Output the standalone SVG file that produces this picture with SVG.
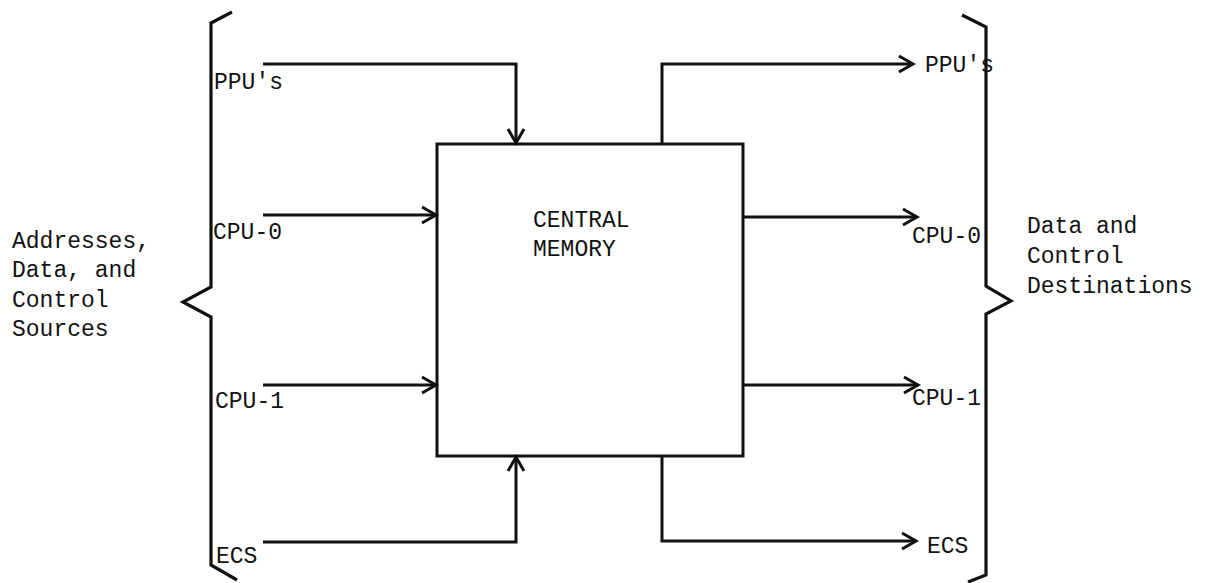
<svg xmlns="http://www.w3.org/2000/svg" width="1210" height="583" viewBox="0 0 1210 583">
<style>
.ln{fill:none;stroke:#111;stroke-width:3;stroke-linejoin:miter}
.br{fill:none;stroke:#111;stroke-width:3.2}
.t{font-family:"Liberation Mono","DejaVu Sans Mono",monospace;font-size:23px;fill:#111}
</style>
<defs>
<marker id="ah" markerUnits="userSpaceOnUse" markerWidth="20" markerHeight="20" viewBox="0 0 20 20" refX="16" refY="10" orient="auto">
<path d="M2,2 L16,10 L2,18" fill="none" stroke="#111" stroke-width="3"/>
</marker>
</defs>
<rect width="1210" height="583" fill="#fff"/>
<g id="left-brace">
<path class="br" d="M232,12 L211,23 V287 L183,302 L211,317 V565 L237,580"/>
</g>
<g id="right-brace">
<path class="br" d="M962,15 L986,27 V286 L1011,301 L986,314 V575 L968,582"/>
</g>
<g id="central-memory">
<rect x="437" y="144" width="306" height="312" fill="#fff" stroke="#111" stroke-width="3"/>
<text class="t" x="533" y="227">CENTRAL</text>
<text class="t" x="533" y="256">MEMORY</text>
</g>
<g id="sources">
<text class="t" x="12" y="248">Addresses,</text>
<text class="t" x="12" y="277">Data, and</text>
<text class="t" x="12" y="307">Control</text>
<text class="t" x="12" y="336">Sources</text>
</g>
<g id="destinations">
<text class="t" x="1027" y="233">Data and</text>
<text class="t" x="1027" y="263">Control</text>
<text class="t" x="1027" y="293">Destinations</text>
</g>
<g id="in-labels">
<text class="t" x="214" y="89">PPU's</text>
<text class="t" x="213" y="239">CPU-0</text>
<text class="t" x="215" y="408">CPU-1</text>
<text class="t" x="216" y="563">ECS</text>
</g>
<g id="out-labels">
<text class="t" x="925" y="72">PPU's</text>
<text class="t" x="912" y="243">CPU-0</text>
<text class="t" x="912" y="405">CPU-1</text>
<text class="t" x="927" y="553">ECS</text>
</g>
<g id="connectors">
<path class="ln" d="M263,64 H516 V143" marker-end="url(#ah)"/>
<path class="ln" d="M263,215 H436" marker-end="url(#ah)"/>
<path class="ln" d="M263,385 H436" marker-end="url(#ah)"/>
<path class="ln" d="M263,542 H516 V457" marker-end="url(#ah)"/>
<path class="ln" d="M662,144 V64 H913" marker-end="url(#ah)"/>
<path class="ln" d="M743,217 H917" marker-end="url(#ah)"/>
<path class="ln" d="M743,385 H918" marker-end="url(#ah)"/>
<path class="ln" d="M662,456 V541 H916" marker-end="url(#ah)"/>
</g>
</svg>
